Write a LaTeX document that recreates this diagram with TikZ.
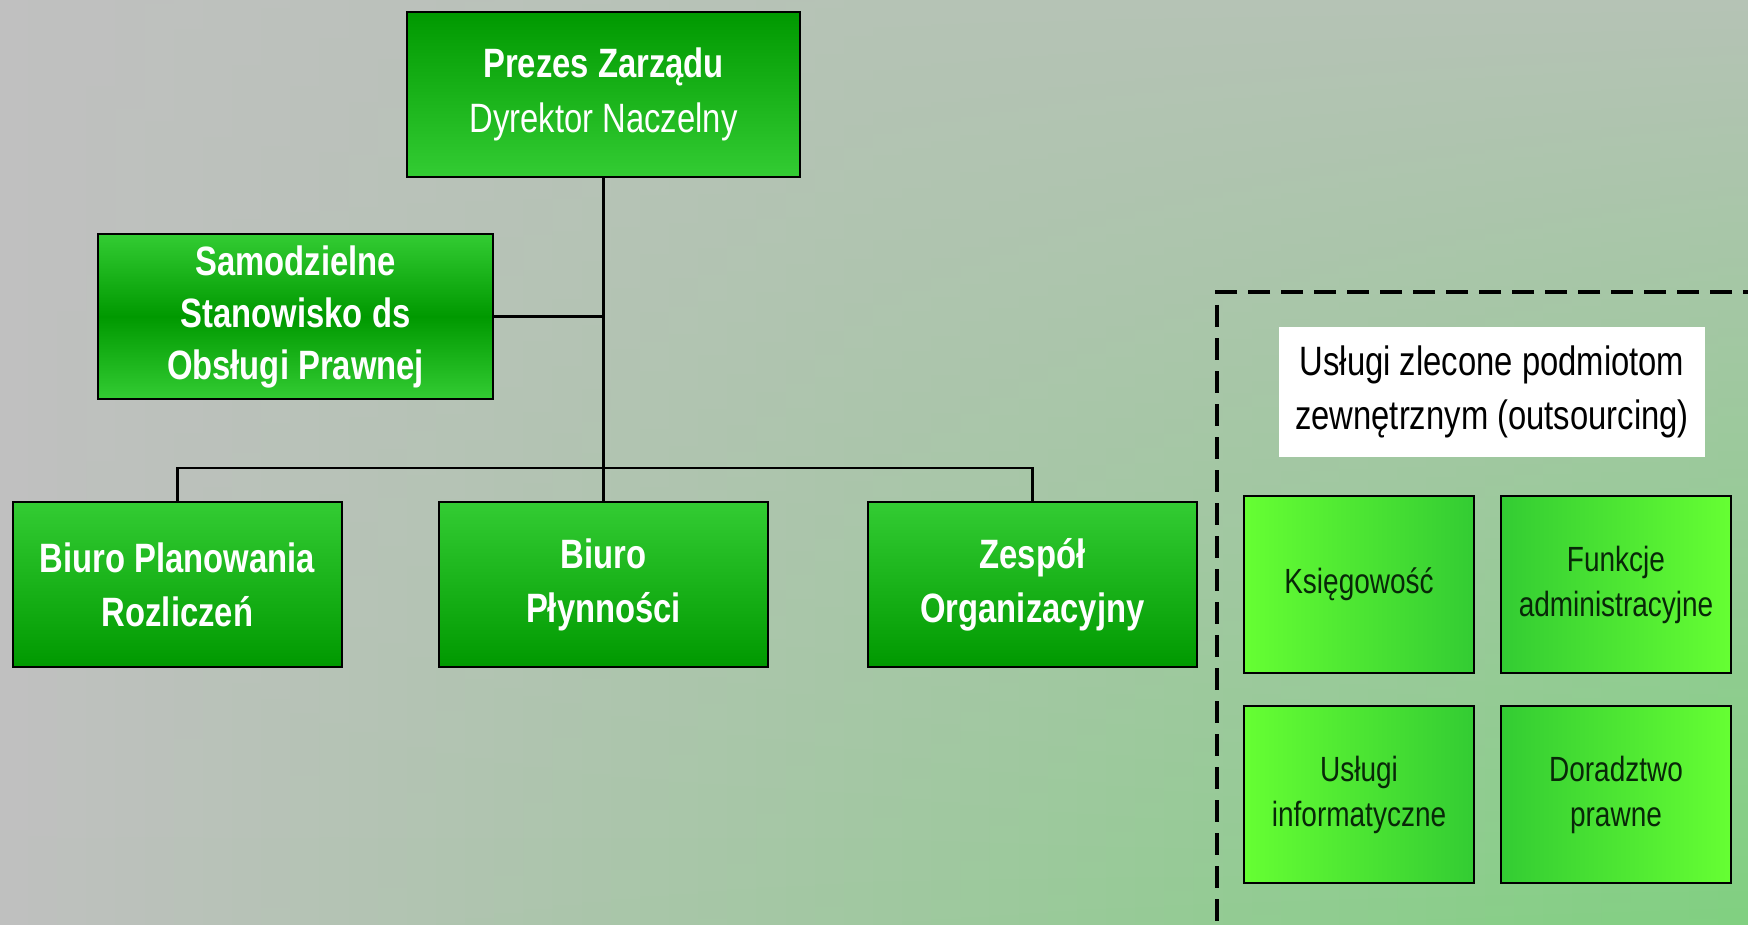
\documentclass[tikz,border=0pt]{standalone}
\usepackage{fontspec}
\setmainfont{Liberation Sans}[FakeStretch=0.8]
\definecolor{bgA}{RGB}{192,192,192}
\definecolor{bgG}{RGB}{128,208,128}
\definecolor{gDark}{RGB}{0,153,0}
\definecolor{gLight}{RGB}{51,204,51}
\definecolor{gBright}{RGB}{102,255,51}
\definecolor{txtDark}{RGB}{8,40,8}
\begin{document}
\begin{tikzpicture}[x=1pt,y=-1pt,
  box/.style={draw=black,line width=2.4pt,inner sep=0pt,align=center},
  mainbox/.style={box,minimum width=329pt,minimum height=165pt,text=white,font=\fontsize{41}{54}\selectfont\bfseries},
  outbox/.style={box,minimum width=230pt,minimum height=177pt,text=txtDark,font=\fontsize{35}{45}\selectfont},
  outL/.style={outbox,left color=gBright,right color=gLight},
  outR/.style={outbox,left color=gLight,right color=gBright},
  conn/.style={line width=2.8pt},
  frame/.style={line width=3.2pt,dash pattern=on 22pt off 11pt}]
\useasboundingbox (0,0) rectangle (1748,925);
% background
\foreach \i in {0,...,59}{
  \pgfmathsetmacro\u{(\i+0.5)/60}
  \pgfmathsetmacro\gt{17*min(\u/0.5,1)}
  \pgfmathsetmacro\gb{100*\u}
  \pgfmathsetmacro\xa{\i*(1748/60)-0.6}
  \pgfmathsetmacro\xb{(\i+1)*(1748/60)+0.6}
  \shade[top color=bgG!\gt!bgA, bottom color=bgG!\gb!bgA] (\xa,0) rectangle (\xb,925);
}
% main hierarchy
\node[mainbox,minimum width=393pt,top color=gDark,bottom color=gLight,font=\fontsize{41}{55}\selectfont] (prezes) at (603.5,94.5) {{\bfseries Prezes Zarządu}\\Dyrektor Naczelny};
\node[mainbox,minimum width=395pt,top color=gLight,bottom color=gLight,middle color=gDark,font=\fontsize{41}{52}\selectfont\bfseries] (samo) at (295.5,316.5) {Samodzielne\\Stanowisko ds\\Obsługi Prawnej};
\node[mainbox,top color=gLight,bottom color=gDark] (bpr) at (177.5,584.5) {Biuro Planowania\\Rozliczeń};
\node[mainbox,top color=gLight,bottom color=gDark] (plyn) at (603.5,584.5) {Biuro\\Płynności};
\node[mainbox,top color=gLight,bottom color=gDark] (zesp) at (1032.5,584.5) {Zespół\\Organizacyjny};
\coordinate (bus) at (603.5,468);
\draw[conn] (prezes.south) -- (plyn.north);
\draw[conn] (samo.east) -- (samo.east -| prezes.south);
\draw[conn] (bpr.north) |- (bus) -| (zesp.north);
% outsourcing
\draw[frame] (1765,292) -- (1217,292) -- (1217,945);
\node[fill=white,inner sep=0pt,minimum width=426pt,minimum height=130pt,align=center,font=\fontsize{41}{54}\selectfont] (lbl) at (1492,392) {Usługi zlecone podmiotom\\zewnętrznym (outsourcing)};
\node[outL] (ksieg) at (1359,584.5) {Księgowość};
\node[outR] (funk) at (1616,584.5) {Funkcje\\administracyjne};
\node[outL] (info) at (1359,794.5) {Usługi\\informatyczne};
\node[outR] (dor) at (1616,794.5) {Doradztwo\\prawne};
\end{tikzpicture}
\end{document}
